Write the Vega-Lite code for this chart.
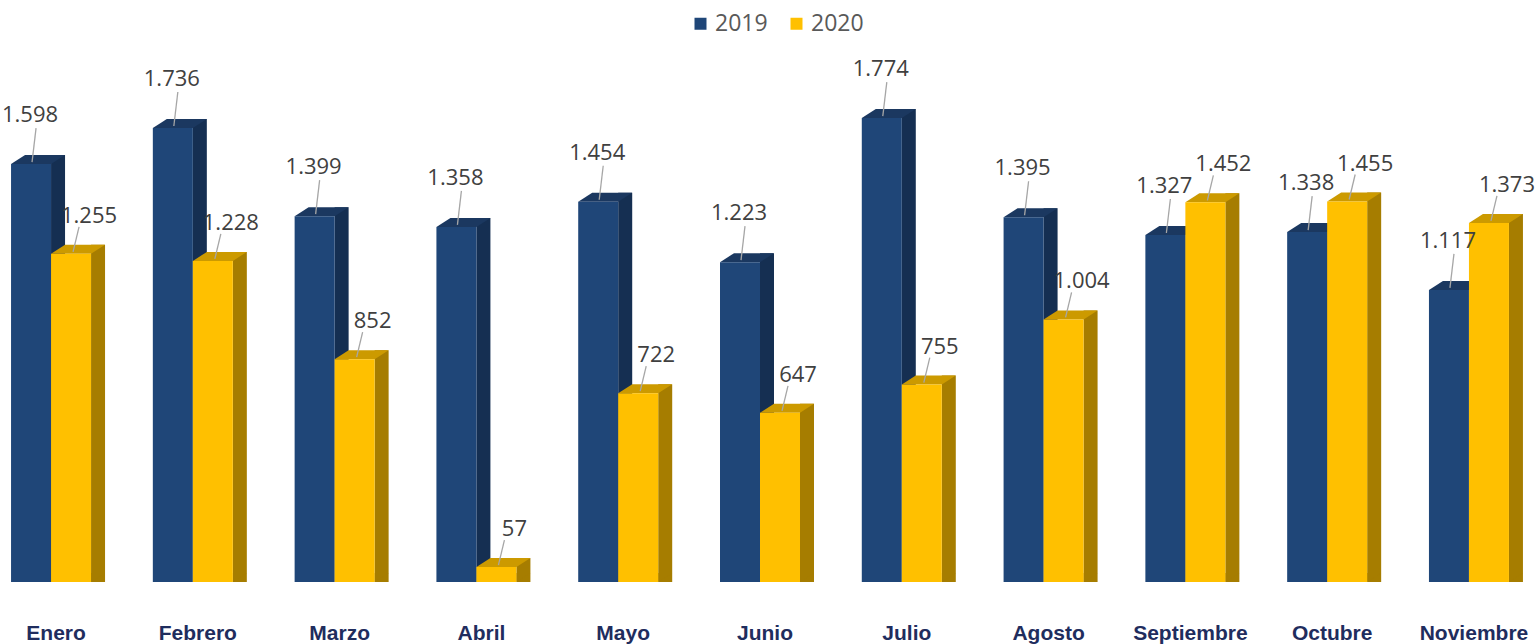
{
  "$schema": "https://vega.github.io/schema/vega-lite/v6.json",
  "width": 1520,
  "height": 523,
  "autosize": "none",
  "padding": {"left": 0, "top": 59, "right": 17, "bottom": 62},
  "config": {
    "view": {"stroke": null},
    "font": "Open Sans",
    "locale": {"number": {"decimal": ",", "thousands": ".", "grouping": [3], "currency": ["", " €"]}},
    "legend": {"padding": 0}
  },
  "data": {
    "values": [
      {"month": "Enero", "year": 2019, "value": 1598},
      {"month": "Enero", "year": 2020, "value": 1255},
      {"month": "Febrero", "year": 2019, "value": 1736},
      {"month": "Febrero", "year": 2020, "value": 1228},
      {"month": "Marzo", "year": 2019, "value": 1399},
      {"month": "Marzo", "year": 2020, "value": 852},
      {"month": "Abril", "year": 2019, "value": 1358},
      {"month": "Abril", "year": 2020, "value": 57},
      {"month": "Mayo", "year": 2019, "value": 1454},
      {"month": "Mayo", "year": 2020, "value": 722},
      {"month": "Junio", "year": 2019, "value": 1223},
      {"month": "Junio", "year": 2020, "value": 647},
      {"month": "Julio", "year": 2019, "value": 1774},
      {"month": "Julio", "year": 2020, "value": 755},
      {"month": "Agosto", "year": 2019, "value": 1395},
      {"month": "Agosto", "year": 2020, "value": 1004},
      {"month": "Septiembre", "year": 2019, "value": 1327},
      {"month": "Septiembre", "year": 2020, "value": 1452},
      {"month": "Octubre", "year": 2019, "value": 1338},
      {"month": "Octubre", "year": 2020, "value": 1455},
      {"month": "Noviembre", "year": 2019, "value": 1117},
      {"month": "Noviembre", "year": 2020, "value": 1373}
    ]
  },
  "encoding": {
    "x": {
      "field": "month",
      "type": "nominal",
      "sort": ["Enero", "Febrero", "Marzo", "Abril", "Mayo", "Junio", "Julio", "Agosto", "Septiembre", "Octubre", "Noviembre"],
      "scale": {"paddingInner": 0.5, "paddingOuter": 0.11},
      "axis": {
        "title": null,
        "domain": false,
        "ticks": false,
        "grid": false,
        "labelAngle": 0,
        "labelPadding": 40,
        "labelOffset": 5,
        "labelFont": "Liberation Sans",
        "labelFontWeight": "bold",
        "labelFontSize": 21,
        "labelColor": "#1f2d5e"
      }
    },
    "y": {
      "field": "value",
      "type": "quantitative",
      "stack": null,
      "scale": {"domain": [0, 2000], "nice": false},
      "axis": null
    }
  },
  "layer": [
    {
      "transform": [{"filter": "datum.year == 2019"}],
      "mark": {"type": "bar", "width": 14, "xOffset": 7, "yOffset": -9, "y2Offset": -9, "color": "#152f52"}
    },
    {
      "transform": [{"filter": "datum.year == 2019"}],
      "mark": {"type": "point", "shape": "M-1,0L1,0L1.7,-0.45L-0.3,-0.45Z", "size": 1600, "filled": true, "opacity": 1, "color": "#1b3860", "xOffset": -20}
    },
    {
      "transform": [{"filter": "datum.year == 2019"}],
      "mark": {"type": "bar", "width": 40, "xOffset": -20},
      "encoding": {
        "color": {
          "field": "year",
          "type": "nominal",
          "scale": {"domain": [2019, 2020], "range": ["#1f4678", "#ffc000"]},
          "legend": {
            "title": null,
            "orient": "none",
            "direction": "horizontal",
            "legendX": 689,
            "legendY": -47,
            "symbolType": "square",
            "symbolSize": 144,
            "symbolStrokeWidth": 0,
            "labelFont": "Open Sans",
            "labelFontSize": 23,
            "labelColor": "#595959",
            "labelOffset": 3,
            "columnPadding": 17
          }
        }
      }
    },
    {
      "transform": [{"filter": "datum.year == 2020"}],
      "mark": {"type": "bar", "width": 14, "xOffset": 47, "yOffset": -9, "y2Offset": -9, "color": "#a67d00"}
    },
    {
      "transform": [{"filter": "datum.year == 2020"}],
      "mark": {"type": "point", "shape": "M1,0L1,-0.45L1.7,-0.45Z", "size": 1600, "filled": true, "opacity": 1, "color": "#a67d00", "xOffset": 20},
      "encoding": {"y": {"datum": 0}}
    },
    {
      "transform": [{"filter": "datum.year == 2020"}],
      "mark": {"type": "point", "shape": "M-1,0L1,0L1.7,-0.45L-0.3,-0.45Z", "size": 1600, "filled": true, "opacity": 1, "color": "#cc9a00", "xOffset": 20}
    },
    {
      "transform": [{"filter": "datum.year == 2020"}],
      "mark": {"type": "bar", "width": 40, "xOffset": 20},
      "encoding": {"color": {"field": "year", "type": "nominal"}}
    },
    {
      "transform": [{"filter": "datum.year == 2019"}],
      "mark": {"type": "rule", "color": "#a6a6a6", "strokeWidth": 1.3, "xOffset": -19, "x2Offset": -15, "yOffset": -2, "y2Offset": -36},
      "encoding": {"x2": {"field": "month"}, "y2": {"field": "value"}}
    },
    {
      "transform": [{"filter": "datum.year == 2020"}],
      "mark": {"type": "rule", "color": "#a6a6a6", "strokeWidth": 1.3, "xOffset": 22, "x2Offset": 28, "yOffset": -2, "y2Offset": -27},
      "encoding": {"x2": {"field": "month"}, "y2": {"field": "value"}}
    },
    {
      "transform": [{"filter": "datum.year == 2019"}],
      "mark": {"type": "text", "font": "Open Sans", "fontSize": 22, "color": "#404040", "align": "center", "baseline": "middle", "xOffset": -21, "yOffset": -49},
      "encoding": {"text": {"field": "value", "type": "quantitative", "format": ",.0f"}}
    },
    {
      "transform": [{"filter": "datum.year == 2020"}],
      "mark": {"type": "text", "font": "Open Sans", "fontSize": 22, "color": "#404040", "align": "center", "baseline": "middle", "xOffset": 38, "yOffset": -38},
      "encoding": {"text": {"field": "value", "type": "quantitative", "format": ",.0f"}}
    }
  ]
}
